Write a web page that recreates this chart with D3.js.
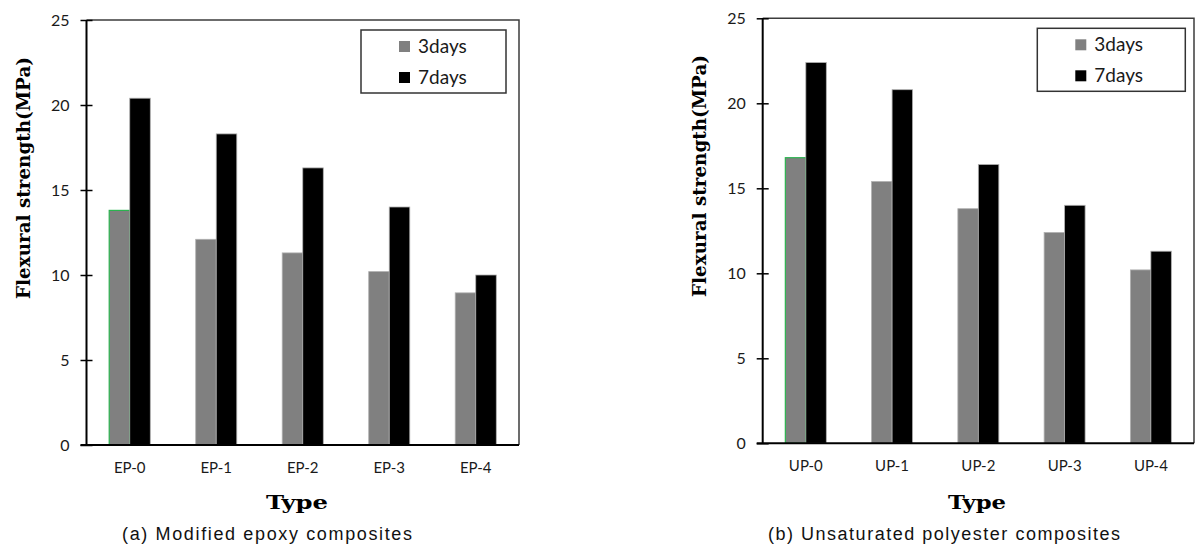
<!DOCTYPE html>
<html>
<head>
<meta charset="utf-8">
<script src="https://cdn.jsdelivr.net/npm/d3@7"></script>
<style>
    html, body { margin: 0; padding: 0; background: #fff; }
    svg { display: block; }
</style>
</head>
<body>
<svg id="chart"></svg>
<script>
// [A] Datos ------------------------------------------------------------------
const epTypes = ["EP-0", "EP-1", "EP-2", "EP-3", "EP-4"];
const ep3days = [13.8, 12.1, 11.3, 10.2, 8.95];
const ep7days = [20.4, 18.3, 16.3, 14.0, 10.0];

const upTypes = ["UP-0", "UP-1", "UP-2", "UP-3", "UP-4"];
const up3days = [16.8, 15.4, 13.8, 12.4, 10.2];
const up7days = [22.4, 20.8, 16.4, 14.0, 11.3];

const seriesNames = ["3days", "7days"];
const yTicks = [0, 5, 10, 15, 20, 25];

// [B] Configuracion ----------------------------------------------------------
const width = 1195;
const height = 549;
const colors = ["#808080", "#000000"];
const sansFont = "Lato, 'Open Sans', sans-serif";

const svg = d3.select("#chart")
    .attr("width", width)
    .attr("height", height);

// [C] Dibuja un panel --------------------------------------------------------
function drawPanel(cfg) {
    const g = svg.append("g");

    const x = d3.scaleBand()
        .domain(cfg.types)
        .range([cfg.left, cfg.right])
        .paddingInner(0.525)
        .paddingOuter(0.2625);

    const xSub = d3.scaleBand()
        .domain(seriesNames)
        .range([0, x.bandwidth()]);

    const y = d3.scaleLinear()
        .domain([0, 25])
        .range([cfg.bottom, cfg.top]);

    // marco superior y derecho
    g.append("path")
        .attr("d", `M${cfg.left},${cfg.top}H${cfg.right}V${cfg.bottom}`)
        .attr("fill", "none")
        .attr("stroke", "#3c3c3c")
        .attr("stroke-width", 1.5);

    // barras
    const rows = cfg.types.map((t, i) => ({ type: t, values: [cfg.s3[i], cfg.s7[i]] }));
    const groups = g.selectAll(".grp")
        .data(rows)
        .join("g")
        .attr("transform", d => `translate(${x(d.type)},0)`);

    groups.selectAll("rect")
        .data((d, gi) => d.values.map((v, k) => ({ v, k, gi })))
        .join("rect")
        .attr("x", d => xSub(seriesNames[d.k]))
        .attr("y", d => y(d.v))
        .attr("width", xSub.bandwidth())
        .attr("height", d => y(0) - y(d.v))
        .attr("fill", d => colors[d.k])
        .attr("stroke", d => (d.k === 0 && d.gi === 0) ? "#2bb34f" : "#b0b0b0")
        .attr("stroke-width", d => (d.k === 0 && d.gi === 0) ? 1.2 : 0.8);

    // eje Y
    const yAxis = g.append("g")
        .attr("transform", `translate(${cfg.left},0)`)
        .call(d3.axisLeft(y).tickValues(yTicks).tickSize(0).tickPadding(17));
    yAxis.select(".domain").remove();
    yAxis.selectAll("text")
        .attr("font-family", sansFont)
        .attr("font-size", 16)
        .attr("fill", "#1a1a1a");
    yAxis.selectAll(".tick").append("line")
        .attr("x1", -6).attr("x2", 6)
        .attr("stroke", "#000").attr("stroke-width", 1.5);

    g.append("line")
        .attr("x1", cfg.left).attr("x2", cfg.left)
        .attr("y1", cfg.top).attr("y2", cfg.bottom)
        .attr("stroke", "#000").attr("stroke-width", 2);

    // eje X
    const xAxis = g.append("g")
        .attr("transform", `translate(0,${cfg.bottom})`)
        .call(d3.axisBottom(x).tickSize(0).tickPadding(17));
    xAxis.select(".domain").remove();
    xAxis.selectAll("text")
        .attr("font-family", sansFont)
        .attr("font-size", 15)
        .attr("fill", "#1a1a1a");

    g.append("line")
        .attr("x1", cfg.left - 6).attr("x2", cfg.right)
        .attr("y1", cfg.bottom).attr("y2", cfg.bottom)
        .attr("stroke", "#000").attr("stroke-width", 2);

    // titulos de ejes
    g.append("text")
        .attr("transform", `translate(${cfg.yLabelX},${cfg.yLabelY}) rotate(-90)`)
        .attr("text-anchor", "middle")
        .attr("font-family", "'DejaVu Serif', serif")
        .attr("font-weight", "bold")
        .attr("font-size", 18)
        .attr("textLength", 242)
        .attr("lengthAdjust", "spacingAndGlyphs")
        .text("Flexural strength(MPa)");

    g.append("text")
        .attr("x", cfg.typeX)
        .attr("y", 509)
        .attr("text-anchor", "middle")
        .attr("font-family", "'DejaVu Serif', serif")
        .attr("font-weight", "bold")
        .attr("font-size", 19)
        .attr("textLength", cfg.typeW)
        .attr("lengthAdjust", "spacingAndGlyphs")
        .text("Type");

    // leyenda
    const lg = g.append("g").attr("transform", `translate(${cfg.legX},${cfg.legY})`);
    lg.append("rect")
        .attr("width", cfg.legW).attr("height", 63)
        .attr("fill", "#fff").attr("stroke", "#333").attr("stroke-width", 1.5);
    seriesNames.forEach((name, k) => {
        lg.append("rect")
            .attr("x", cfg.swX).attr("y", 11 + k * 31)
            .attr("width", 11).attr("height", 11)
            .attr("fill", colors[k]);
        lg.append("text")
            .attr("x", cfg.swX + 19).attr("y", 23 + k * 31)
            .attr("font-family", sansFont)
            .attr("font-size", 19)
            .attr("fill", "#1a1a1a")
            .text(name);
    });

    // pie de figura
    g.append("text")
        .attr("x", cfg.capX)
        .attr("y", 540)
        .attr("font-family", "'Liberation Sans', Arial, sans-serif")
        .attr("font-size", 18)
        .attr("textLength", cfg.capW)
        .attr("lengthAdjust", "spacing")
        .attr("fill", "#111")
        .text(cfg.caption);
}

// [D] Paneles ----------------------------------------------------------------
drawPanel({
    types: epTypes, s3: ep3days, s7: ep7days,
    left: 86.5, right: 519, top: 20, bottom: 445,
    yLabelX: 30, yLabelY: 178,
    typeX: 297, typeW: 62,
    legX: 361, legY: 30, legW: 145, swX: 38,
    capX: 122, capW: 290,
    caption: "(a) Modified epoxy composites"
});

drawPanel({
    types: upTypes, s3: up3days, s7: up7days,
    left: 762.7, right: 1194, top: 18.3, bottom: 443.3,
    yLabelX: 706, yLabelY: 176,
    typeX: 977, typeW: 58,
    legX: 1037.3, legY: 28.3, legW: 148, swX: 38,
    capX: 768, capW: 352,
    caption: "(b) Unsaturated polyester composites"
});
</script>
</body>
</html>
